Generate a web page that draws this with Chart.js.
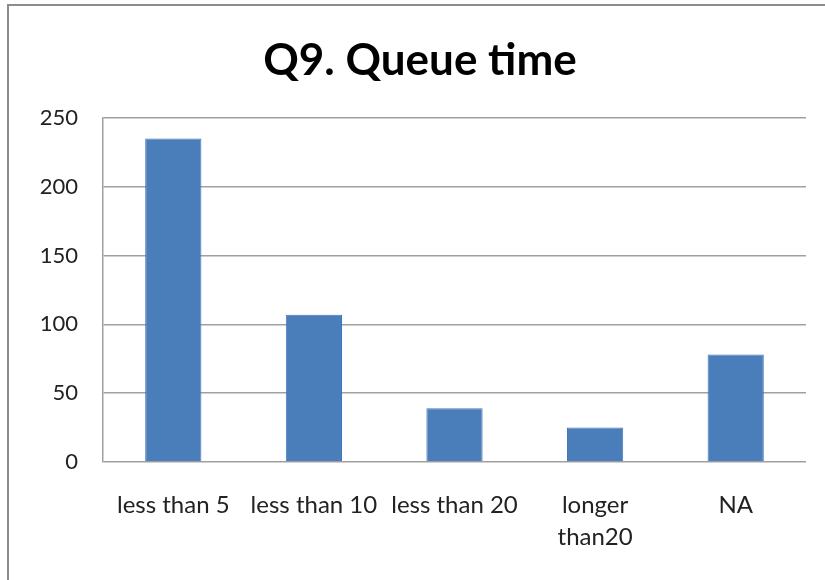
<!DOCTYPE html>
<html>
<head>
<meta charset="utf-8">
<script src="https://cdn.jsdelivr.net/npm/chart.js@4/dist/chart.umd.min.js"></script>
<style>
  html, body { margin: 0; padding: 0; background: #fff; }
  #wrap { width: 825px; height: 580px; position: relative; }
</style>
</head>
<body>
<div id="wrap"><canvas id="c" width="825" height="580"></canvas></div>
<script>
// Survey answers for Q9: how long people waited in the queue
const categories = ['less than 5', 'less than 10', 'less than 20', ['longer', 'than20'], 'NA'];
const responses = [235, 107, 39, 25, 78];
const yTicks = [0, 50, 100, 150, 200, 250];

const FONT = 'Lato, "Open Sans", "DejaVu Sans", sans-serif';

// Grey frame along the top and left edges of the chart
const framePlugin = {
  id: 'frame',
  afterDraw(chart) {
    const ctx = chart.ctx;
    ctx.save();
    ctx.strokeStyle = '#8c8c8c';
    ctx.lineWidth = 2;
    ctx.beginPath();
    ctx.moveTo(8, 580);
    ctx.lineTo(8, 5);
    ctx.lineTo(825, 5);
    ctx.stroke();
    ctx.restore();
  }
};

new Chart(document.getElementById('c'), {
  type: 'bar',
  data: {
    labels: categories,
    datasets: [{
      data: responses,
      backgroundColor: '#4a7ebb',
      borderColor: '#4677b4',
      borderWidth: 1,
      categoryPercentage: 1.0,
      barPercentage: 0.4
    }]
  },
  plugins: [framePlugin],
  options: {
    responsive: false,
    animation: false,
    layout: { padding: { left: 34, right: 19, top: 0, bottom: 0 } },
    plugins: {
      legend: { display: false },
      tooltip: { enabled: false },
      title: {
        display: true,
        text: 'Q9. Queue time',
        color: '#000',
        font: { family: FONT, size: 44, weight: 'bold' },
        padding: { top: 34, bottom: 31 }
      }
    },
    scales: {
      x: {
        grid: { display: false, drawTicks: false },
        border: { display: false },
        ticks: {
          color: '#222',
          font: { family: FONT, size: 24, lineHeight: 1.33 },
          padding: 27,
          maxRotation: 0,
          autoSkip: false
        },
        afterFit(scale) { scale.height = 118; }
      },
      y: {
        min: 0,
        max: 250,
        afterBuildTicks(scale) { scale.ticks = yTicks.map(v => ({ value: v })); },
        grid: { color: '#a0a0a0', lineWidth: 1.5, drawTicks: false },
        border: { display: true, color: '#a0a0a0', width: 1.5 },
        ticks: {
          color: '#222',
          font: { family: FONT, size: 22 },
          padding: 25
        },
        afterFit(scale) { scale.width = 69; }
      }
    }
  }
});
</script>
</body>
</html>
